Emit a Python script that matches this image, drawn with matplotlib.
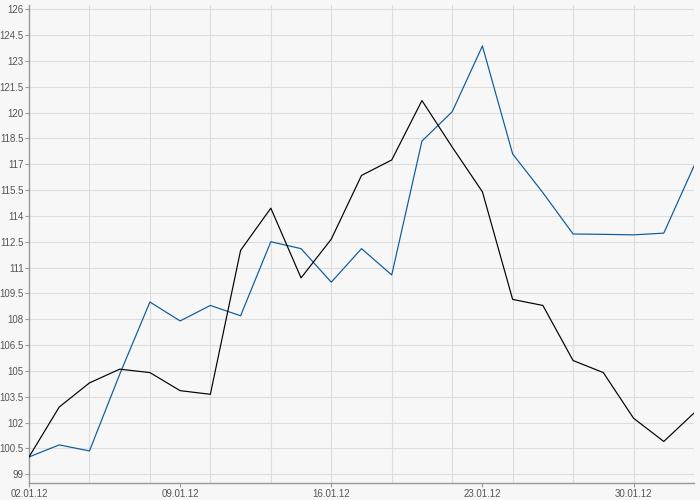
import numpy as np
import matplotlib.pyplot as plt

# weekday dates, 02.01.12 .. 01.02.12
dates = ["02.01.12", "03.01.12", "04.01.12", "05.01.12", "06.01.12",
         "09.01.12", "10.01.12", "11.01.12", "12.01.12", "13.01.12",
         "16.01.12", "17.01.12", "18.01.12", "19.01.12", "20.01.12",
         "23.01.12", "24.01.12", "25.01.12", "26.01.12", "27.01.12",
         "30.01.12", "31.01.12", "01.02.12"]

black_series = [100.0, 102.9, 104.3, 105.1, 104.9, 103.85, 103.64, 112.0, 114.45, 110.4,
                112.65, 116.35, 117.25, 120.7, 118.0, 115.4, 109.15, 108.8, 105.6, 104.9,
                102.25, 100.9, 102.55]
blue_series = [100.0, 100.7, 100.35, 104.8, 109.0, 107.9, 108.8, 108.2, 112.5, 112.1,
               110.15, 112.1, 110.57, 118.35, 120.05, 123.87, 117.6, 115.35, 112.95, 112.93,
               112.9, 113.0, 116.9]

y_ticks = [99, 100.5, 102, 103.5, 105, 106.5, 108, 109.5, 111, 112.5, 114, 115.5,
           117, 118.5, 120, 121.5, 123, 124.5, 126]
label_every = 5
grid_every = 2

x = np.arange(len(dates))

plt.rcParams["font.family"] = ["Liberation Sans", "DejaVu Sans"]

fig = plt.figure(figsize=(7, 5), dpi=100)
fig.patch.set_facecolor("#f7f7f7")
ax = fig.add_axes([29 / 700, 1 - 483.3 / 500, (694 - 29) / 700, (483.3 - 5) / 500])
ax.set_facecolor("#f7f7f7")

ax.plot(x, blue_series, color="#0a5a9c", lw=0.85, zorder=3)
ax.plot(x, black_series, color="#000000", lw=0.85, zorder=4)

ax.set_xlim(0, len(dates) - 1)
ax.set_ylim(98.47, 126.25)

ax.set_yticks(y_ticks)
ax.set_yticklabels([f"{v:g}" for v in y_ticks])
ax.set_xticks(x[::label_every])
ax.set_xticklabels(dates[::label_every])

# grid lines
for v in y_ticks:
    ax.axhline(v, color="#dddddd", lw=0.8, zorder=1)
for i in x[::grid_every][1:]:
    ax.axvline(i, color="#dddddd", lw=0.8, zorder=1)

for s in ["top", "right"]:
    ax.spines[s].set_visible(False)
for s in ["left", "bottom"]:
    ax.spines[s].set_color("#999999")
    ax.spines[s].set_linewidth(1.0)

ax.tick_params(axis="both", colors="#999999", length=3, width=0.8,
               labelcolor="#555555", labelsize=7, pad=1)

fig.savefig("out.png", dpi=100, facecolor=fig.get_facecolor())
